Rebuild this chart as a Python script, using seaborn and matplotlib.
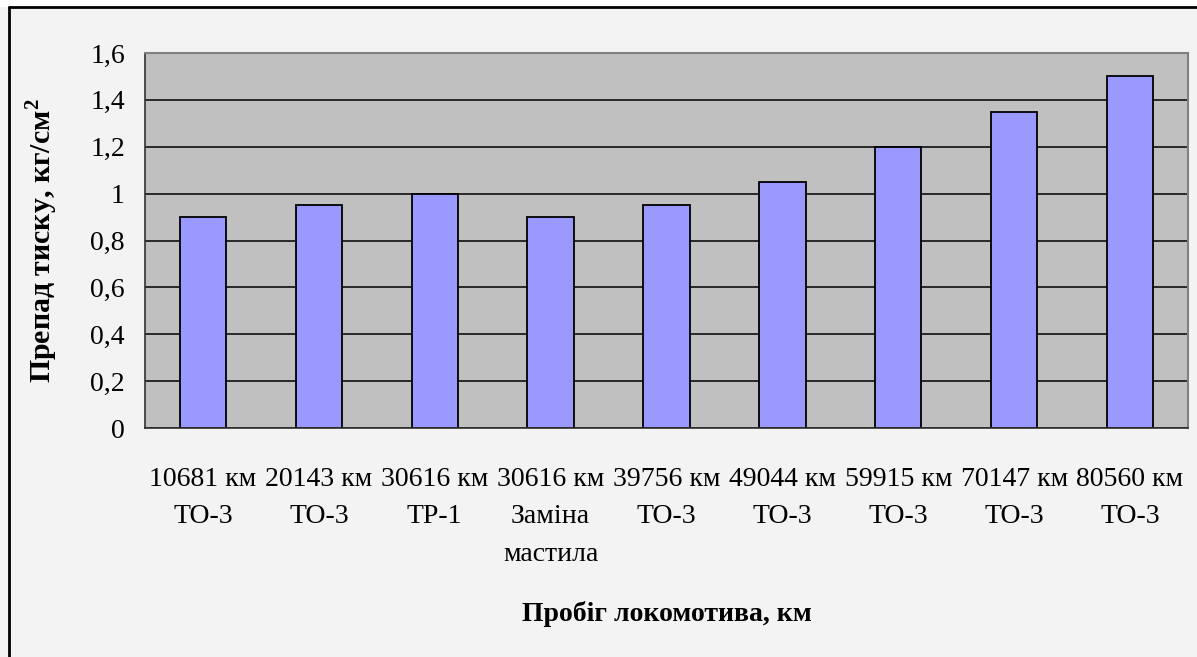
import matplotlib
matplotlib.use("Agg")
import matplotlib.pyplot as plt
from matplotlib.lines import Line2D
from matplotlib.patches import Rectangle
import seaborn as sns

# data
mileage = ["10681 км", "20143 км", "30616 км", "30616 км", "39756 км",
           "49044 км", "59915 км", "70147 км", "80560 км"]
service = ["ТО-3", "ТО-3", "ТР-1", "Заміна\nмастила", "ТО-3",
           "ТО-3", "ТО-3", "ТО-3", "ТО-3"]
pressure_drop = [0.9, 0.95, 1.0, 0.9, 0.95, 1.05, 1.2, 1.35, 1.5]
yticks = [0, 0.2, 0.4, 0.6, 0.8, 1.0, 1.2, 1.4, 1.6]
ytick_labels = ["0", "0,2", "0,4", "0,6", "0,8", "1", "1,2", "1,4", "1,6"]

labels = [f"{m}\n{s}" for m, s in zip(mileage, service)]

sns.set_style("white")
plt.rcParams["font.family"] = ["Liberation Serif", "DejaVu Serif"]
plt.rcParams["mathtext.fontset"] = "custom"
plt.rcParams["mathtext.rm"] = "Liberation Serif"
plt.rcParams["mathtext.bf"] = "Liberation Serif:bold"
for key in ["text.color", "axes.labelcolor", "xtick.color", "ytick.color"]:
    plt.rcParams[key] = "black"

fig = plt.figure(figsize=(11.97, 6.57), dpi=100, facecolor="#F3F3F3")
ax = fig.add_axes([145 / 1197, 1 - 428 / 657, (1188 - 145) / 1197, (428 - 53) / 657])
ax.set_facecolor("#C0C0C0")

sns.barplot(x=labels, y=pressure_drop, color="#9999FF", saturation=1,
            edgecolor="black", linewidth=1.3, width=0.4, ax=ax)

ax.set_ylim(0, 1.6)
ax.set_xlim(-0.5, len(labels) - 0.5)
ax.set_yticks(yticks)
ax.set_yticklabels(ytick_labels)
ax.yaxis.grid(True, color="black", linewidth=1.1)
ax.set_axisbelow(True)

# category boundary ticks like Excel
ax.set_xticks([i - 0.5 for i in range(len(labels) + 1)], minor=True)
ax.tick_params(axis="x", which="major", length=0, pad=28, labelsize=20)
ax.tick_params(axis="x", which="minor", length=6.5, width=1, color="#404040", direction="out")
ax.tick_params(axis="y", length=6.5, width=1, color="#404040", direction="out",
               pad=8, labelsize=20)
for t in ax.get_xticklabels():
    t.set_linespacing(1.65)

for side in ["top", "right"]:
    ax.spines[side].set_color("#808080")
    ax.spines[side].set_linewidth(1.5)
for side in ["left", "bottom"]:
    ax.spines[side].set_color("#303030")
    ax.spines[side].set_linewidth(1.2)

ax.set_xlabel("Пробіг локомотива, км", fontsize=20, fontweight="bold", labelpad=25)
ax.set_ylabel(r"Препад тиску, кг/см$^{\mathbf{2}}$", fontsize=21.5,
              fontweight="bold", labelpad=22)

# outer chart frame (white strip above, black border top and left)
fig.add_artist(Rectangle((0, 1 - 7 / 657), 1, 7 / 657, transform=fig.transFigure,
                         facecolor="white", edgecolor="none"))
fig.add_artist(Line2D([9 / 1197, 1], [1 - 7 / 657, 1 - 7 / 657],
                      transform=fig.transFigure, color="black", linewidth=2))
fig.add_artist(Line2D([9 / 1197, 9 / 1197], [0, 1 - 7 / 657],
                      transform=fig.transFigure, color="black", linewidth=2))

fig.savefig("out.png", dpi=100, facecolor=fig.get_facecolor())
